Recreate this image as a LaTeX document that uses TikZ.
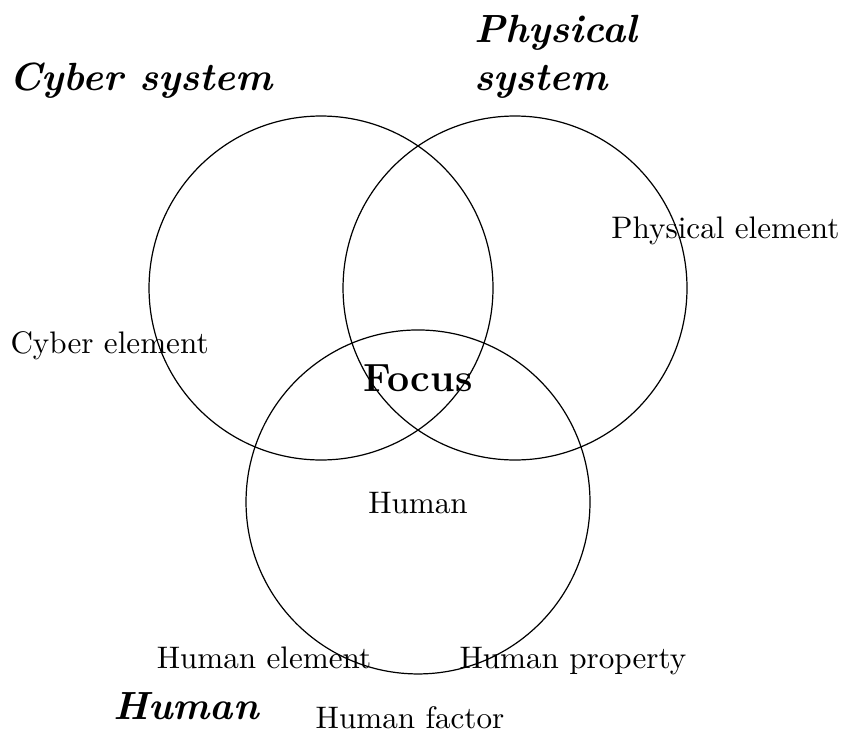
\documentclass[tikz,border=0pt]{standalone}
\usetikzlibrary{positioning}

\begin{document}
\begin{tikzpicture}[set/.style={circle, draw=black, line width=0.4pt, minimum size=4cm, inner sep=0pt},heading/.style={font=\fontsize{13pt}{16pt}\selectfont\bfseries\itshape, inner sep=0pt, anchor=base},elem/.style={font=\fontsize{10.3pt}{12.5pt}\selectfont, inner sep=0pt, anchor=base}]
\useasboundingbox (-3.733,-5.198) rectangle (6.070,3.349);
\node[set] (cyber) at (0,0) {};\node[set] (physical) at (2.256,0) {};\node[set] (human) at (1.128,-2.488) {};
\node[heading] (cybersys) at (-2.093,2.291) {Cyber system};
\node[heading, align=left, anchor=base west] (physsys) at (1.775,2.291) {Physical\\system};
\node[heading] (humansys) at (-1.570,-5.023) {Human};
\node[elem] (cyberel) at (-2.459,-0.767) {Cyber element};
\node[elem] (physel) at (4.703,0.570) {Physical element};
\node[elem, font=\fontsize{13pt}{16pt}\selectfont\bfseries] (focus) at (1.128,-1.206) {Focus};
\node[elem] (humanin) at (1.128,-2.620) {Human};
\node[elem] (humanel) at (-0.663,-4.430) {Human element};
\node[elem] (humanprop) at (2.930,-4.419) {Human property};
\node[elem] (humanfac) at (1.035,-5.128) {Human factor};
\end{tikzpicture}
\end{document}
